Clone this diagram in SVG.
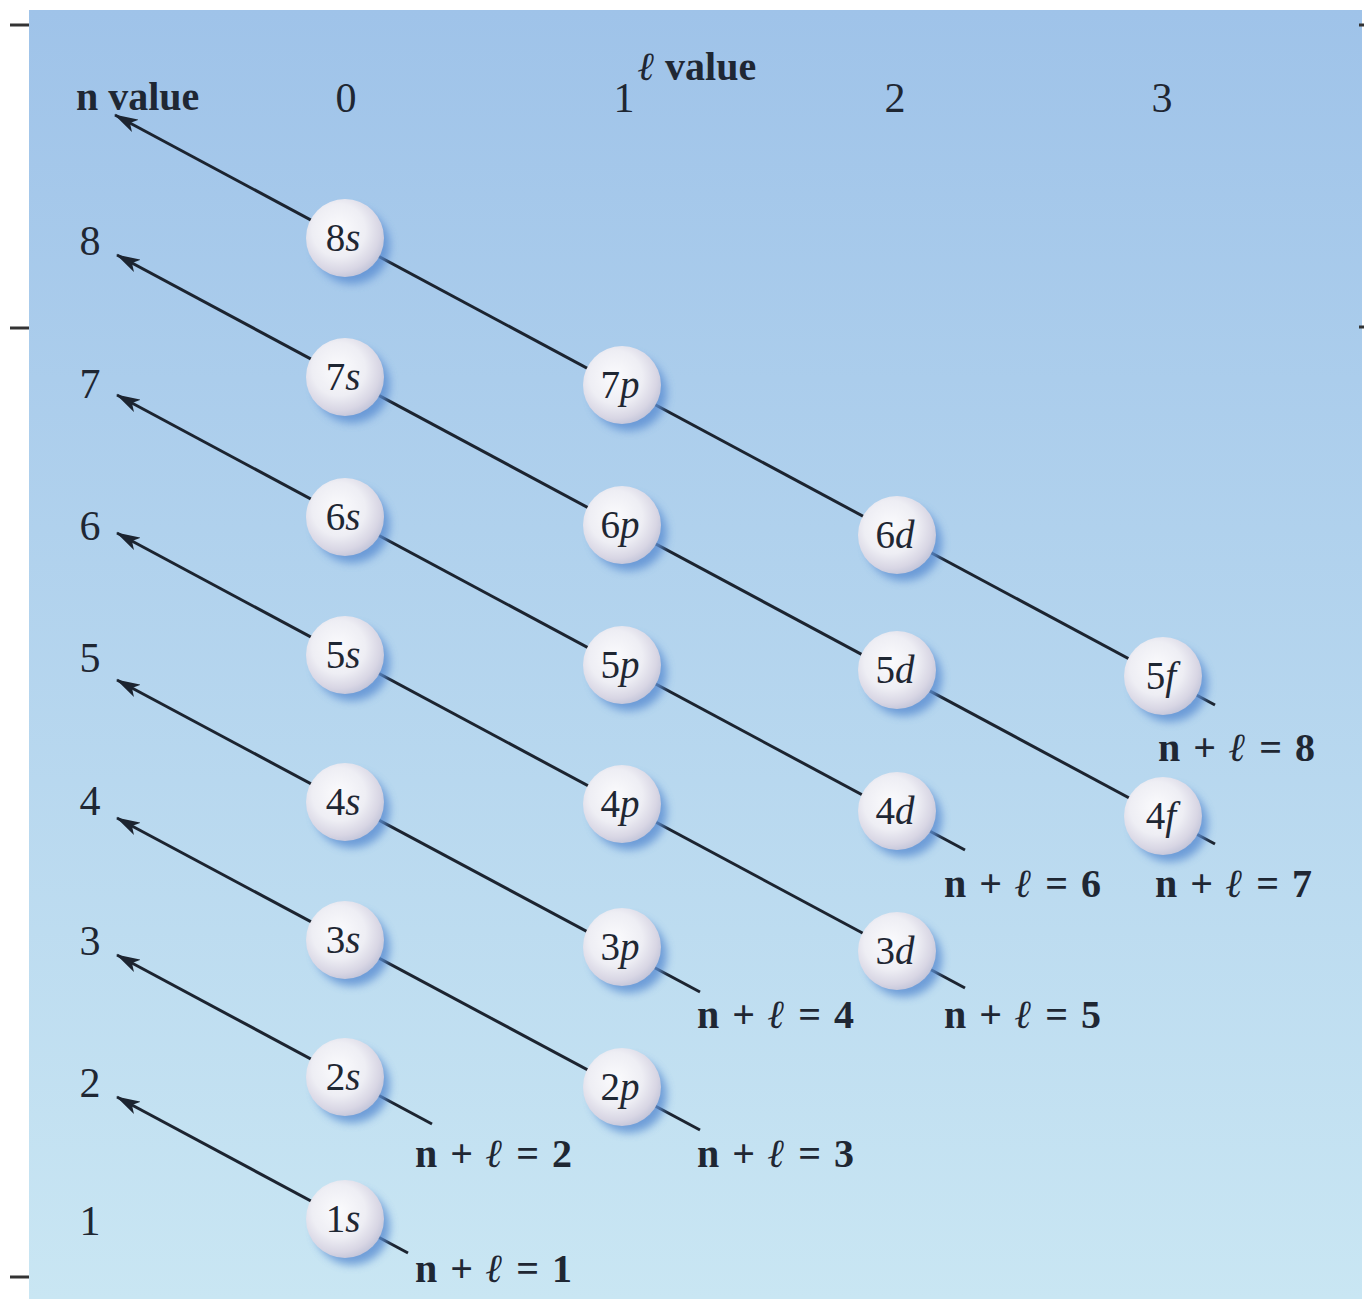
<svg xmlns="http://www.w3.org/2000/svg" width="1364" height="1299" viewBox="0 0 1364 1299">
<defs>
<linearGradient id="bg" x1="0" y1="0" x2="0" y2="1">
<stop offset="0" stop-color="#9fc3e9"/>
<stop offset="1" stop-color="#c9e6f3"/>
</linearGradient>
<radialGradient id="ball" cx="0.42" cy="0.4" r="0.62">
<stop offset="0" stop-color="#fbfbfd"/>
<stop offset="0.55" stop-color="#eeeef4"/>
<stop offset="0.85" stop-color="#d8d6e4"/>
<stop offset="1" stop-color="#c4c6da"/>
</radialGradient>
<filter id="blur" x="-50%" y="-50%" width="200%" height="200%">
<feGaussianBlur stdDeviation="4"/>
</filter>
<marker id="arr" viewBox="0 0 24 14" refX="1" refY="7" markerWidth="24" markerHeight="14" markerUnits="userSpaceOnUse" orient="auto">
<path d="M0,7 L24,0 L18,7 L24,14 Z" fill="#1c2430"/>
</marker>
<circle id="sh" r="38" fill="#5a8dd2" opacity="0.8" filter="url(#blur)"/>
</defs>
<style>
.t{font-family:"Liberation Serif","Times New Roman",serif;fill:#1f2733}
.hd{font-size:40px;font-weight:bold}
.num{font-size:42px}
.eq{font-size:40px;font-weight:bold;word-spacing:3px}
.orb{font-size:39px;text-anchor:middle}
.it{font-style:italic}
.ln{stroke:#1c2430;stroke-width:3;fill:none}
.tick{stroke:#333;stroke-width:3}
</style>
<rect x="0" y="0" width="1364" height="1299" fill="#ffffff"/>
<rect x="29" y="10" width="1333" height="1289" fill="url(#bg)"/>
<g id="ticks">
<line class="tick" x1="10" y1="25" x2="29" y2="25"/>
<line class="tick" x1="10" y1="328" x2="29" y2="328"/>
<line class="tick" x1="10" y1="1277" x2="29" y2="1277"/>
<line class="tick" x1="1359" y1="25" x2="1364" y2="25"/>
<line class="tick" x1="1359" y1="327" x2="1364" y2="327"/>
</g>
<g id="headers">
<text class="t hd" x="76" y="110">n value</text>
<text class="t hd" x="638" y="80"><tspan class="it">ℓ</tspan> value</text>
<text class="t num" x="346" y="112" text-anchor="middle">0</text>
<text class="t num" x="624" y="112" text-anchor="middle">1</text>
<text class="t num" x="895" y="112" text-anchor="middle">2</text>
<text class="t num" x="1162" y="112" text-anchor="middle">3</text>
<text class="t num" x="90" y="255" text-anchor="middle">8</text>
<text class="t num" x="90" y="398" text-anchor="middle">7</text>
<text class="t num" x="90" y="540" text-anchor="middle">6</text>
<text class="t num" x="90" y="672" text-anchor="middle">5</text>
<text class="t num" x="90" y="815" text-anchor="middle">4</text>
<text class="t num" x="90" y="955" text-anchor="middle">3</text>
<text class="t num" x="90" y="1097" text-anchor="middle">2</text>
<text class="t num" x="90" y="1235" text-anchor="middle">1</text>
</g>
<g id="connectors">
<line class="ln" x1="115" y1="115" x2="1215" y2="705" marker-start="url(#arr)"/>
<line class="ln" x1="117" y1="255" x2="1215" y2="844" marker-start="url(#arr)"/>
<line class="ln" x1="117" y1="395" x2="965" y2="850" marker-start="url(#arr)"/>
<line class="ln" x1="117" y1="533" x2="965" y2="988" marker-start="url(#arr)"/>
<line class="ln" x1="117" y1="680" x2="700" y2="992" marker-start="url(#arr)"/>
<line class="ln" x1="117" y1="818" x2="700" y2="1130" marker-start="url(#arr)"/>
<line class="ln" x1="117" y1="955" x2="432" y2="1124" marker-start="url(#arr)"/>
<line class="ln" x1="117" y1="1097" x2="408" y2="1253" marker-start="url(#arr)"/>
</g>
<g id="n8s"><use href="#sh" x="352" y="246"/><circle cx="345" cy="238" r="39" fill="url(#ball)"/><text class="t orb" x="343" y="251">8<tspan class="it">s</tspan></text></g>
<g id="n7s"><use href="#sh" x="352" y="385"/><circle cx="345" cy="377" r="39" fill="url(#ball)"/><text class="t orb" x="343" y="390">7<tspan class="it">s</tspan></text></g>
<g id="n6s"><use href="#sh" x="352" y="525"/><circle cx="345" cy="517" r="39" fill="url(#ball)"/><text class="t orb" x="343" y="530">6<tspan class="it">s</tspan></text></g>
<g id="n5s"><use href="#sh" x="352" y="663"/><circle cx="345" cy="655" r="39" fill="url(#ball)"/><text class="t orb" x="343" y="668">5<tspan class="it">s</tspan></text></g>
<g id="n4s"><use href="#sh" x="352" y="810"/><circle cx="345" cy="802" r="39" fill="url(#ball)"/><text class="t orb" x="343" y="815">4<tspan class="it">s</tspan></text></g>
<g id="n3s"><use href="#sh" x="352" y="948"/><circle cx="345" cy="940" r="39" fill="url(#ball)"/><text class="t orb" x="343" y="953">3<tspan class="it">s</tspan></text></g>
<g id="n2s"><use href="#sh" x="352" y="1085"/><circle cx="345" cy="1077" r="39" fill="url(#ball)"/><text class="t orb" x="343" y="1090">2<tspan class="it">s</tspan></text></g>
<g id="n1s"><use href="#sh" x="352" y="1227"/><circle cx="345" cy="1219" r="39" fill="url(#ball)"/><text class="t orb" x="343" y="1232">1<tspan class="it">s</tspan></text></g>
<g id="n7p"><use href="#sh" x="629" y="393"/><circle cx="622" cy="385" r="39" fill="url(#ball)"/><text class="t orb" x="620" y="398">7<tspan class="it">p</tspan></text></g>
<g id="n6p"><use href="#sh" x="629" y="533"/><circle cx="622" cy="525" r="39" fill="url(#ball)"/><text class="t orb" x="620" y="538">6<tspan class="it">p</tspan></text></g>
<g id="n5p"><use href="#sh" x="629" y="673"/><circle cx="622" cy="665" r="39" fill="url(#ball)"/><text class="t orb" x="620" y="678">5<tspan class="it">p</tspan></text></g>
<g id="n4p"><use href="#sh" x="629" y="812"/><circle cx="622" cy="804" r="39" fill="url(#ball)"/><text class="t orb" x="620" y="817">4<tspan class="it">p</tspan></text></g>
<g id="n3p"><use href="#sh" x="629" y="955"/><circle cx="622" cy="947" r="39" fill="url(#ball)"/><text class="t orb" x="620" y="960">3<tspan class="it">p</tspan></text></g>
<g id="n2p"><use href="#sh" x="629" y="1095"/><circle cx="622" cy="1087" r="39" fill="url(#ball)"/><text class="t orb" x="620" y="1100">2<tspan class="it">p</tspan></text></g>
<g id="n6d"><use href="#sh" x="904" y="543"/><circle cx="897" cy="535" r="39" fill="url(#ball)"/><text class="t orb" x="895" y="548">6<tspan class="it">d</tspan></text></g>
<g id="n5d"><use href="#sh" x="904" y="678"/><circle cx="897" cy="670" r="39" fill="url(#ball)"/><text class="t orb" x="895" y="683">5<tspan class="it">d</tspan></text></g>
<g id="n4d"><use href="#sh" x="904" y="819"/><circle cx="897" cy="811" r="39" fill="url(#ball)"/><text class="t orb" x="895" y="824">4<tspan class="it">d</tspan></text></g>
<g id="n3d"><use href="#sh" x="904" y="959"/><circle cx="897" cy="951" r="39" fill="url(#ball)"/><text class="t orb" x="895" y="964">3<tspan class="it">d</tspan></text></g>
<g id="n5f"><use href="#sh" x="1170" y="684"/><circle cx="1163" cy="676" r="39" fill="url(#ball)"/><text class="t orb" x="1161" y="689">5<tspan class="it">f</tspan></text></g>
<g id="n4f"><use href="#sh" x="1170" y="824"/><circle cx="1163" cy="816" r="39" fill="url(#ball)"/><text class="t orb" x="1161" y="829">4<tspan class="it">f</tspan></text></g>
<g id="labels">
<text class="t eq" x="1158" y="761">n + <tspan class="it">ℓ</tspan> = 8</text>
<text class="t eq" x="1155" y="897">n + <tspan class="it">ℓ</tspan> = 7</text>
<text class="t eq" x="944" y="897">n + <tspan class="it">ℓ</tspan> = 6</text>
<text class="t eq" x="944" y="1028">n + <tspan class="it">ℓ</tspan> = 5</text>
<text class="t eq" x="697" y="1028">n + <tspan class="it">ℓ</tspan> = 4</text>
<text class="t eq" x="697" y="1167">n + <tspan class="it">ℓ</tspan> = 3</text>
<text class="t eq" x="415" y="1167">n + <tspan class="it">ℓ</tspan> = 2</text>
<text class="t eq" x="415" y="1282">n + <tspan class="it">ℓ</tspan> = 1</text>
</g>
</svg>
